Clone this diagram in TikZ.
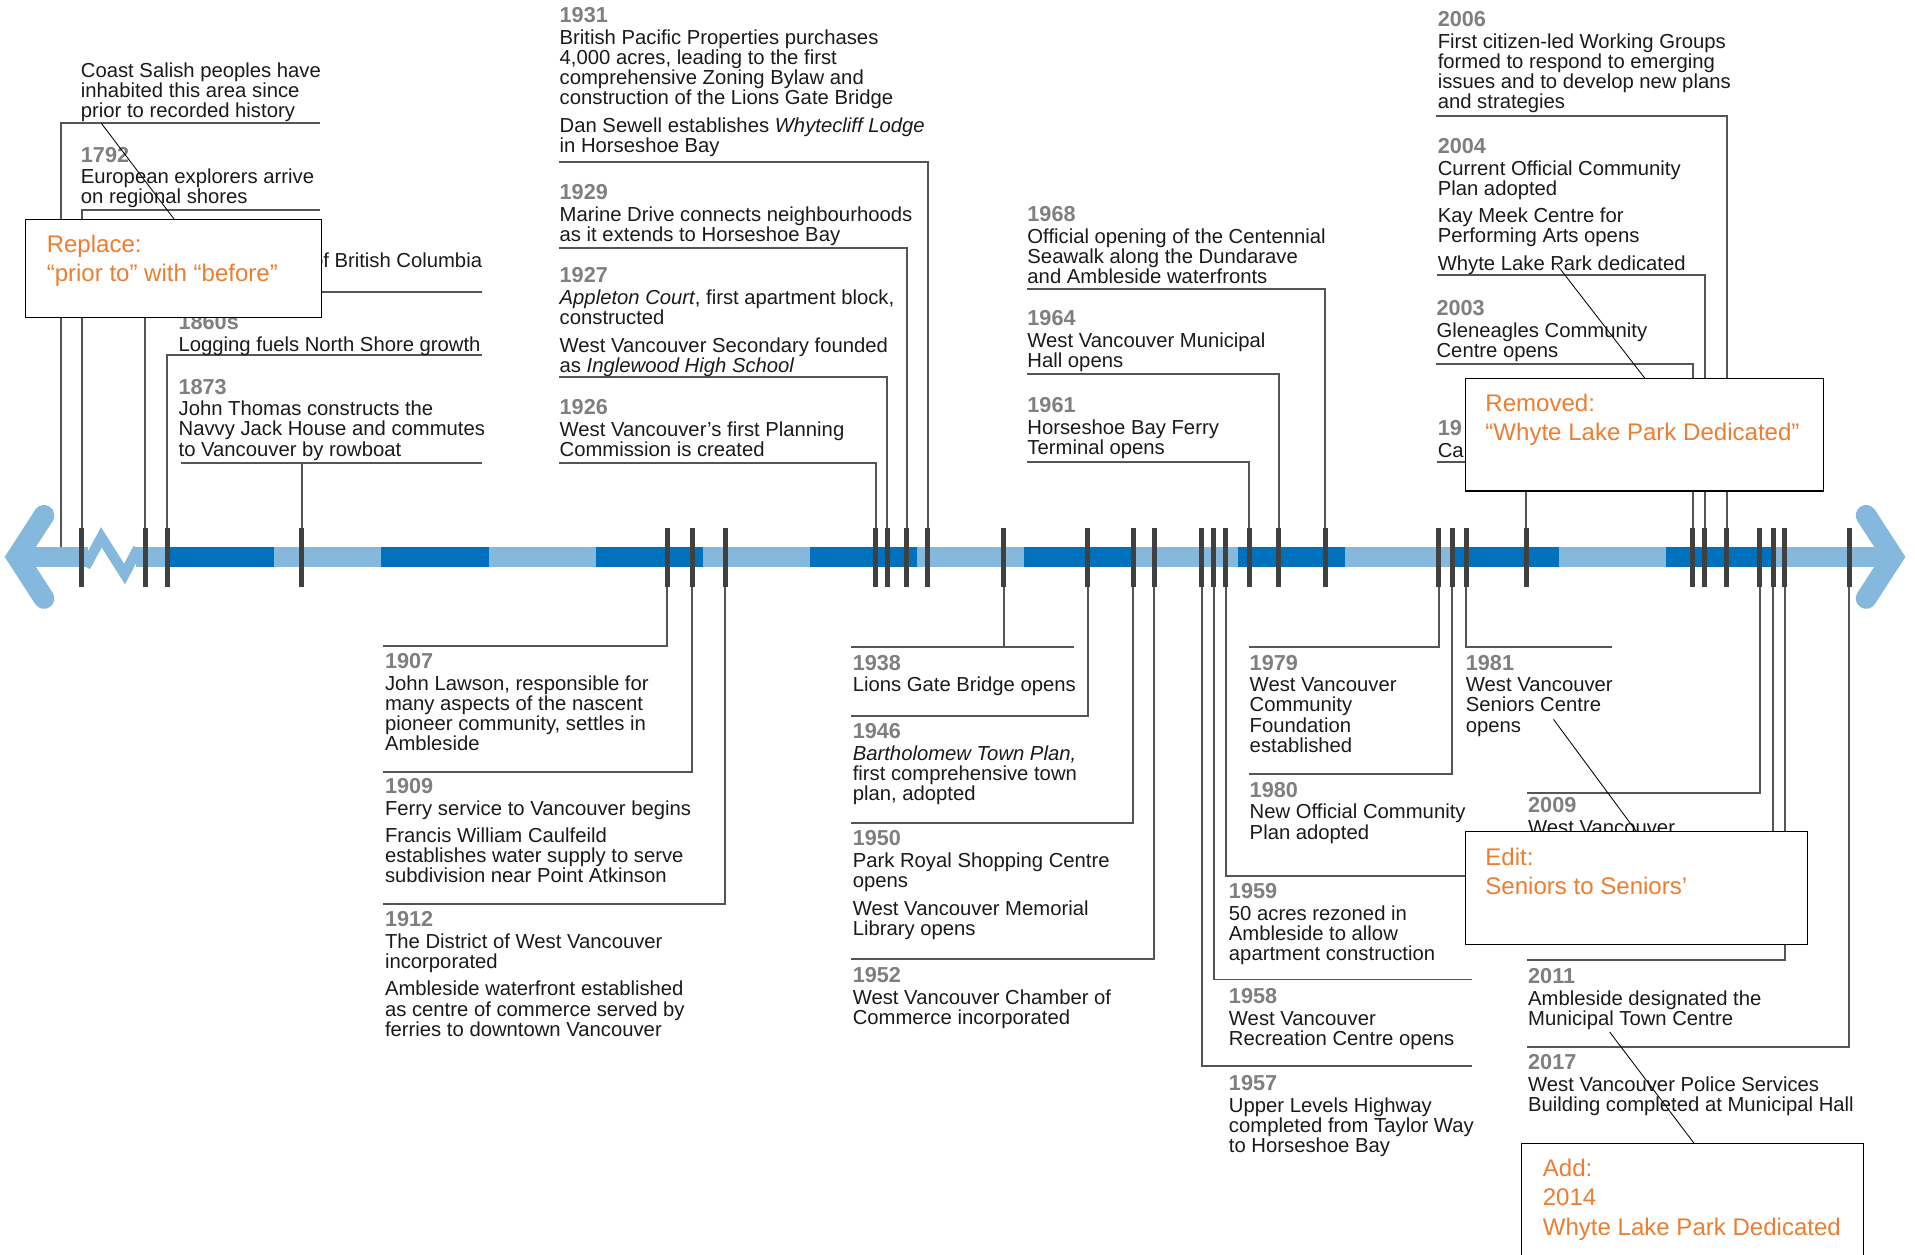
\documentclass[tikz,border=0pt]{standalone}
\usepackage{fontspec}
\setmainfont{Liberation Sans}
\usepackage{xcolor}
\usetikzlibrary{positioning,fit}

\definecolor{barlight}{HTML}{84B8DC}
\definecolor{bardark}{HTML}{0071BC}
\definecolor{tickgray}{HTML}{404040}
\definecolor{linegray}{HTML}{555555}
\definecolor{yeargray}{HTML}{7F7F7F}
\definecolor{inkblack}{HTML}{1A1A1A}
\definecolor{noteorange}{HTML}{ED7D31}

\newcommand{\yr}[1]{{\fontsize{12.6}{11.7}\selectfont\bfseries\color{yeargray}#1}\\[1pt]}

\tikzset{
  evt/.style={anchor=north west, inner sep=0pt, align=left, text=inkblack, font=\fontsize{11.8}{11.7}\selectfont},
  conn/.style={draw=linegray, line width=1.15pt},
  tickmark/.style={draw=tickgray, line width=2.9pt},
  notebox/.style={draw=black, fill=white, line width=0.65pt, inner sep=0pt},
  notetext/.style={anchor=north west, inner sep=0pt, align=left, text=noteorange, font=\fontsize{14}{17}\selectfont},
  leader/.style={draw=black, line width=0.5pt}
}

\begin{document}
\begin{tikzpicture}[x=0.025cm, y=-0.025cm]
    \useasboundingbox (0,0) rectangle (1568,1027);

    % the time bar
    \draw[barlight, line width=12.1pt] (14,456) -- (72,456);
    \draw[barlight, line width=12.1pt] (111,456) -- (1550,456);
    \draw[barlight, line width=6pt, line join=miter] (70,464) -- (83,440) -- (102,470) -- (113,449);
    \draw[barlight, line width=12.1pt, line cap=round, line join=miter] (36,422) -- (14,456) -- (36,490);
    \draw[barlight, line width=12.1pt, line cap=round, line join=miter] (1528,422) -- (1550,456) -- (1528,490);
    \foreach \k in {0,...,7}
        \fill[bardark] ({137+175.3*\k},447.5) rectangle ++(87.7,17);

    % connectors
    \coordinate (kSalish) at (50,447.5);
    \coordinate (rSalish) at (262,101);
    \draw[conn] (kSalish) |- (rSalish);
    \foreach \n/\x/\ry/\rx in {1792/67/172/262, bc/119/239/395, 1860s/137/291/395,
        1926/717/379/458, 1927/726.5/309/458, 1929/742.5/203/458, 1931/759.5/133/458,
        1961/1023/378/841, 1964/1047/306/841, 1968/1085/237/841,
        19x/1249.5/378/1177, 2003/1386/298/1176, 2004/1396/225/1177, 2006/1414/95/1176,
        1907/546.5/529/314, 1909/567/632/314, 1912/594/740/314,
        1946/890.5/586/697, 1950/928/674/697, 1952/945/785/697,
        1957/984/873/1205, 1958/994/802/1205, 1959/1003.5/717/1230,
        1979/1178/530/1023, 1980/1189/634/1023, 1981/1200.5/530/1320,
        2009/1441/649/1250, 2011/1461.5/786/1250, 2017/1514/857/1250}{
        \coordinate (k\n) at (\x,456);
        \coordinate (r\n) at (\rx,\ry);
        \draw[conn] (k\n) |- (r\n);
    }
    \coordinate (k1873) at (247,456);
    \coordinate (a1873) at (148,379);
    \coordinate (b1873) at (395,379);
    \draw[conn] (a1873) -- (b1873);
    \draw[conn] (k1873) -- (k1873 |- a1873);
    \coordinate (k1938) at (822,456);
    \coordinate (a1938) at (697,530);
    \coordinate (b1938) at (879,530);
    \draw[conn] (a1938) -- (b1938);
    \draw[conn] (k1938) -- (k1938 |- a1938);
    \coordinate (k2010) at (1452,456);
    \coordinate (r2010) at (1452,720);
    \draw[conn] (k2010) -- (r2010);

    \foreach \x in {67,119,137,247,546.5,567,594,717,726.5,742.5,759.5,822,890.5,928,945,
        984,994,1003.5,1023,1047,1085,1178,1189,1200.5,1249.5,1386,1396,1414,1441,1452,1461.5,1514}
        \draw[tickmark] (\x,432) -- (\x,481);

    % events above the bar
    \node[evt] (eSalish) at (66,51) {Coast Salish peoples have\\inhabited this area since\\prior to recorded history};
    \node[evt] (e1792) at (66,120) {\yr{1792}European explorers arrive\\on regional shores};
    \node[evt, anchor=north east] (eBC) at (395,207) {of British Columbia};
    \node[evt] (e1860s) at (146,257) {\yr{1860s}Logging fuels North Shore growth};
    \node[evt] (e1873) at (146,310) {\yr{1873}John Thomas constructs the\\Navvy Jack House and commutes\\to Vancouver by rowboat};
    \node[evt] (e1926) at (458,327) {\yr{1926}West Vancouver’s first Planning\\Commission is created};
    \node[evt] (e1927) at (458,219) {\yr{1927}\textit{Appleton Court}, first apartment block,\\constructed\\[4.3pt]West Vancouver Secondary founded\\as \textit{Inglewood High School}};
    \node[evt] (e1929) at (458,151) {\yr{1929}Marine Drive connects neighbourhoods\\as it extends to Horseshoe Bay};
    \node[evt] (e1931) at (458,6) {\yr{1931}British Pacific Properties purchases\\4,000 acres, leading to the first\\comprehensive Zoning Bylaw and\\construction of the Lions Gate Bridge\\[4.3pt]Dan Sewell establishes \textit{Whytecliff Lodge}\\in Horseshoe Bay};
    \node[evt] (e1961) at (841,325) {\yr{1961}Horseshoe Bay Ferry\\Terminal opens};
    \node[evt] (e1964) at (841,254) {\yr{1964}West Vancouver Municipal\\Hall opens};
    \node[evt] (e1968) at (841,169) {\yr{1968}Official opening of the Centennial\\Seawalk along the Dundarave\\and Ambleside waterfronts};
    \node[evt] (e19x) at (1177,344) {\yr{19}Ca};
    \node[evt] (e2003) at (1176,246) {\yr{2003}Gleneagles Community\\Centre opens};
    \node[evt] (e2004) at (1177,113) {\yr{2004}Current Official Community\\Plan adopted\\[4.3pt]Kay Meek Centre for\\Performing Arts opens\\[4.3pt]Whyte Lake Park dedicated};
    \node[evt] (e2006) at (1177,9) {\yr{2006}First citizen-led Working Groups\\formed to respond to emerging\\issues and to develop new plans\\and strategies};

    % events below the bar
    \node[evt] (e1907) at (315,535) {\yr{1907}John Lawson, responsible for\\many aspects of the nascent\\pioneer community, settles in\\Ambleside};
    \node[evt] (e1909) at (315,637) {\yr{1909}Ferry service to Vancouver begins\\[4.3pt]Francis William Caulfeild\\establishes water supply to serve\\subdivision near Point Atkinson};
    \node[evt] (e1912) at (315,746) {\yr{1912}The District of West Vancouver\\incorporated\\[4.3pt]Ambleside waterfront established\\as centre of commerce served by\\ferries to downtown Vancouver};
    \node[evt] (e1938) at (698,536) {\yr{1938}Lions Gate Bridge opens};
    \node[evt] (e1946) at (698,592) {\yr{1946}\textit{Bartholomew Town Plan,}\\first comprehensive town\\plan, adopted};
    \node[evt] (e1950) at (698,680) {\yr{1950}Park Royal Shopping Centre\\opens\\[4.3pt]West Vancouver Memorial\\Library opens};
    \node[evt] (e1952) at (698,792) {\yr{1952}West Vancouver Chamber of\\Commerce incorporated};
    \node[evt] (e1957) at (1006,880) {\yr{1957}Upper Levels Highway\\completed from Taylor Way\\to Horseshoe Bay};
    \node[evt] (e1958) at (1006,809) {\yr{1958}West Vancouver\\Recreation Centre opens};
    \node[evt] (e1959) at (1006,723) {\yr{1959}50 acres rezoned in\\Ambleside to allow\\apartment construction};
    \node[evt] (e1979) at (1023,536) {\yr{1979}West Vancouver\\Community\\Foundation\\established};
    \node[evt] (e1980) at (1023,640) {\yr{1980}New Official Community\\Plan adopted};
    \node[evt] (e1981) at (1200,536) {\yr{1981}West Vancouver\\Seniors Centre\\opens};
    \node[evt] (e2009) at (1251,653) {\yr{2009}West Vancouver};
    \node[evt] (e2011) at (1251,793) {\yr{2011}Ambleside designated the\\Municipal Town Centre};
    \node[evt] (e2017) at (1251,863) {\yr{2017}West Vancouver Police Services\\Building completed at Municipal Hall};

    % review notes
    \node[notebox, fit={(21,180) (263,260)}] (nReplace) {};
    \node[notebox, fit={(1200,310) (1493,402)}] (nRemoved) {};
    \node[notebox, fit={(1200,681) (1480,773)}] (nEdit) {};
    \node[notebox, fit={(1246,936) (1526,1045)}] (nAdd) {};

    \coordinate (pReplace) at (83,101);
    \coordinate (qReplace) at (143,180);
    \coordinate (pRemoved) at (1275,217);
    \coordinate (qRemoved) at (1347,310);
    \coordinate (pEdit) at (1272,589);
    \coordinate (qEdit) at (1340,681);
    \coordinate (pAdd) at (1318,845);
    \coordinate (qAdd) at (1387,936);
    \draw[leader] (pReplace) -- (qReplace);
    \draw[leader] (pRemoved) -- (qRemoved);
    \draw[leader] (pEdit) -- (qEdit);
    \draw[leader] (pAdd) -- (qAdd);

    \node[notetext] (tReplace) at (38,192) {Replace:\\“prior to” with “before”};
    \node[notetext] (tRemoved) at (1216,322) {Removed:\\“Whyte Lake Park Dedicated”};
    \node[notetext] (tEdit) at (1216,694) {Edit:\\Seniors to Seniors’};
    \node[notetext] (tAdd) at (1263,949) {Add:\\2014\\Whyte Lake Park Dedicated};
\end{tikzpicture}
\end{document}
